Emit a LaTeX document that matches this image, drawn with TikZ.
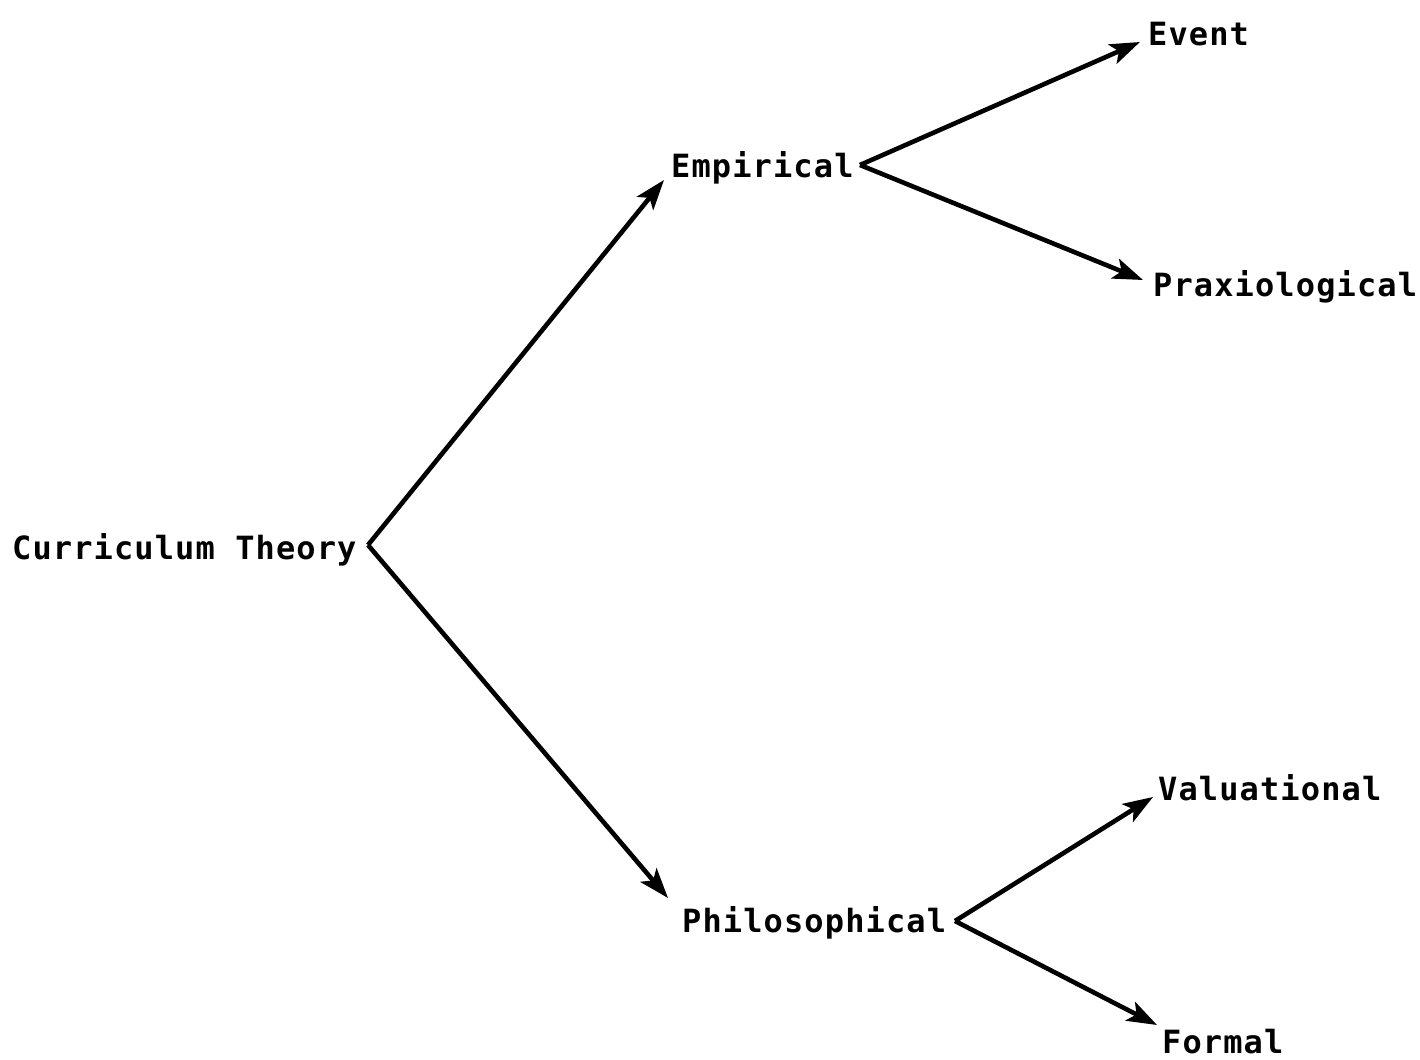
\documentclass[tikz,border=0pt]{standalone}
\usepackage{fontspec}
\setmonofont[LetterSpace=3.5]{DejaVu Sans Mono}
\usetikzlibrary{arrows.meta}
\begin{document}
\begin{tikzpicture}[x=1pt,y=-1pt,
  term/.style={anchor=base west,inner sep=0pt,font=\fontsize{32}{36}\selectfont\ttfamily\bfseries},
  branch/.style={line width=4.6pt,line join=miter,-{Stealth[length=30pt,width=21pt,inset=7pt]}}]
\useasboundingbox (0,0) rectangle (1420,1059);
% terms of the classification
\node[term] (ct)   at (12,559)   {Curriculum Theory};
\node[term] (emp)  at (671,178)  {Empirical};
\node[term] (phil) at (682,932)  {Philosophical};
\node[term] (ev)   at (1148,46)  {Event};
\node[term] (prax) at (1153,296) {Praxiological};
\node[term] (val)  at (1158,800) {Valuational};
\node[term] (form) at (1162,1053) {Formal};
% points where the branches split
\coordinate (ctfork)   at (368,545);
\coordinate (empfork)  at (860,165);
\coordinate (philfork) at (955,921);
% arrow tips
\coordinate (toemp)  at (664,180);
\coordinate (tophil) at (668,898);
\coordinate (toev)   at (1140,42);
\coordinate (toprax) at (1143,280);
\coordinate (toval)  at (1153,797);
\coordinate (toform) at (1157,1025);
% branches
\draw[branch] (ctfork) -- (toemp);
\draw[branch] (ctfork) -- (tophil);
\draw[branch] (empfork) -- (toev);
\draw[branch] (empfork) -- (toprax);
\draw[branch] (philfork) -- (toval);
\draw[branch] (philfork) -- (toform);
\end{tikzpicture}
\end{document}
